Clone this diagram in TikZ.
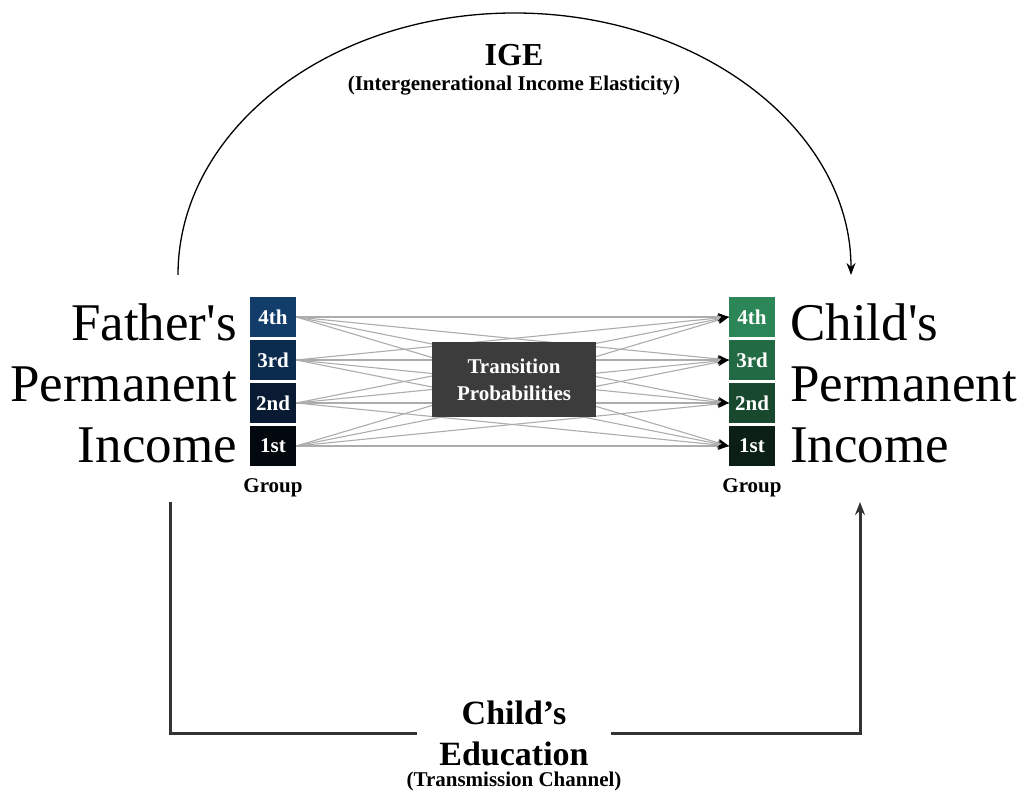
\documentclass[tikz,border=0pt]{standalone}
\usepackage{fontspec}
\setmainfont{Liberation Serif}
\usetikzlibrary{positioning, arrows.meta}

\definecolor{fcol4}{HTML}{123D6B}
\definecolor{fcol3}{HTML}{0C2C4F}
\definecolor{fcol2}{HTML}{081B33}
\definecolor{fcol1}{HTML}{03080F}
\definecolor{ccol4}{HTML}{2B8757}
\definecolor{ccol3}{HTML}{226A44}
\definecolor{ccol2}{HTML}{18492F}
\definecolor{ccol1}{HTML}{0B1F14}
\definecolor{tgray}{HTML}{3C3C3C}

\tikzset{
  grp/.style={minimum width=46pt, minimum height=40pt, inner sep=0pt, text=white, font=\fontsize{21}{24}\selectfont\bfseries},
  flow/.style={draw=gray!65, line width=1.1pt},
  big/.style={font=\fontsize{53}{61}\selectfont, inner sep=0pt},
  lbl/.style={font=\fontsize{21}{27}\selectfont\bfseries, inner sep=0pt},
  chan/.style={draw=black!80, line width=3pt},
}

\begin{document}
\begin{tikzpicture}[x=1pt,y=1pt]
    \useasboundingbox (0,0) rectangle (1022,798);
    % income groups
    \foreach \i/\y/\t in {4/481/4th,3/438/3rd,2/395/2nd,1/352/1st}{
        \node[grp, fill=fcol\i] (f\i) at (273,\y) {\t};
        \node[grp, fill=ccol\i] (c\i) at (752,\y) {\t};
    }
    \node[lbl, below=12pt of f1] (fgrp) {Group};
    \node[lbl, below=12pt of c1] (cgrp) {Group};
    % transitions
    \foreach \i in {1,...,4}{
        \foreach \j in {1,...,4}{
            \draw[flow, -{Stealth[color=black, length=11pt, width=8pt]}] (f\i.east) -- (c\j.west);
        }
    }
    \node[lbl, fill=tgray, text=white, minimum width=164pt, minimum height=75pt, align=center] (trans) at (514,418) {Transition\\Probabilities};
    % permanent income
    \node[big, align=right, anchor=north east] (father) at (237,494) {Father\textquotesingle s\\Permanent\\Income};
    \node[big, align=left, anchor=north west] (child) at (790,494) {Child\textquotesingle s\\Permanent\\Income};
    % IGE arc
    \coordinate (igeL) at (178,523);
    \draw[line width=1.3pt, -{Stealth[length=12pt, width=9pt]}] (igeL) arc[start angle=180, end angle=0, x radius=336.5, y radius=262];
    \node[font=\fontsize{32}{36}\selectfont\bfseries] (ige) at (514,743) {IGE};
    \node[lbl, below=6pt of ige] (igesub) {(Intergenerational Income Elasticity)};
    % education channel
    \node[font=\fontsize{34}{41}\selectfont\bfseries, align=center, inner xsep=22pt, inner ysep=0pt] (edu) at (514,65) {Child’s\\Education};
    \node[lbl, below=6pt of edu] (edusub) {(Transmission Channel)};
    \coordinate (fdown) at (170,296);
    \coordinate (cup) at (860,296);
    \draw[chan] (fdown) |- (edu.west);
    \draw[chan, -{Stealth[length=13pt, width=10pt]}] (edu.east) -| (cup);
\end{tikzpicture}
\end{document}
